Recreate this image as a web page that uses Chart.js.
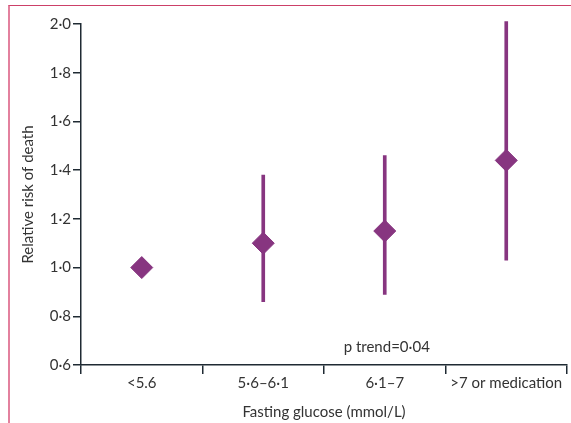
<!DOCTYPE html>
<html>
<head>
<meta charset="utf-8">
<script src="https://cdn.jsdelivr.net/npm/chart.js@4.4.1/dist/chart.umd.min.js"></script>
<style>
  html, body { margin: 0; padding: 0; background: #fff; }
  #wrap { position: relative; width: 571px; height: 423px; }
  #frame { position: absolute; left: 8px; top: 5px; right: 0; bottom: 0;
           border-left: 2px solid #e3819e; border-top: 1px solid #cc4068; pointer-events: none; }
</style>
</head>
<body>
<div id="wrap">
  <canvas id="riskChart" width="571" height="423"></canvas>
  <div id="frame"></div>
</div>
<script>
const categories = ['<5.6', '5·6–6·1', '6·1–7', '>7 or medication'];
const relativeRisk = [1.0, 1.10, 1.15, 1.44];
const ciLow = [null, 0.86, 0.89, 1.03];
const ciHigh = [null, 1.38, 1.46, 2.01];
const yTickLabels = ['0·6', '0·8', '1·0', '1·2', '1·4', '1·6', '1·8', '2·0'];
const trendText = 'p trend=0·04';

const purple = '#873580';
const textCol = '#333333';
const axisCol = '#1f2a33';
const fontFam = 'Lato, "Open Sans", sans-serif';
const fontSize = 15;

const errorBars = categories.map((c, i) => ciLow[i] == null ? null : [ciLow[i], ciHigh[i]]);

const trendLabel = {
  id: 'trendLabel',
  afterDatasetsDraw(chart) {
    const ctx = chart.ctx;
    const x = chart.scales.x.getPixelForValue(2) + 2;
    const y = chart.scales.y.getPixelForValue(0.675);
    ctx.save();
    ctx.font = fontSize + 'px ' + fontFam;
    ctx.fillStyle = textCol;
    ctx.textAlign = 'center';
    ctx.textBaseline = 'middle';
    ctx.fillText(trendText, x, y);
    ctx.restore();
  }
};

const ctx = document.getElementById('riskChart').getContext('2d');
new Chart(ctx, {
  type: 'bar',
  data: {
    labels: categories,
    datasets: [
      {
        type: 'line',
        data: relativeRisk,
        showLine: false,
        pointStyle: 'rectRot',
        pointRadius: 11,
        pointBackgroundColor: purple,
        pointBorderColor: purple,
        pointBorderWidth: 1,
        order: 0
      },
      {
        type: 'bar',
        data: errorBars,
        backgroundColor: purple,
        borderWidth: 0,
        barThickness: 3,
        grouped: false,
        clip: false,
        order: 1
      }
    ]
  },
  options: {
    responsive: false,
    animation: false,
    layout: { autoPadding: false, padding: { top: 24, right: 4, left: 0, bottom: 0 } },
    plugins: { legend: { display: false }, tooltip: { enabled: false } },
    scales: {
      x: {
        offset: true,
        afterFit(scale) {
          scale.height = 58;
          scale.paddingLeft = 0;
          scale.paddingRight = 0;
        },
        grid: { offset: true, drawOnChartArea: false, drawTicks: true, tickLength: 9, color: axisCol, lineWidth: 1.5 },
        border: { color: axisCol, width: 1.5 },
        ticks: { color: textCol, font: { family: fontFam, size: fontSize }, padding: 0, maxRotation: 0 },
        title: { display: true, text: 'Fasting glucose (mmol/L)', color: textCol,
                 font: { family: fontFam, size: fontSize }, padding: { top: 0, bottom: 2 } }
      },
      y: {
        min: 0.6,
        max: 2.0,
        afterFit(scale) { scale.width = 81; },
        grid: { drawOnChartArea: false, drawTicks: true, tickLength: 8, color: axisCol, lineWidth: 1.5 },
        border: { color: axisCol, width: 1.5 },
        ticks: {
          stepSize: 0.2,
          color: textCol,
          font: { family: fontFam, size: fontSize },
          padding: 2,
          callback: (v, i) => yTickLabels[i]
        },
        title: { display: true, text: 'Relative risk of death', color: textCol,
                 font: { family: fontFam, size: fontSize }, padding: { top: 19, bottom: 0 } }
      }
    }
  },
  plugins: [trendLabel]
});
</script>
</body>
</html>
